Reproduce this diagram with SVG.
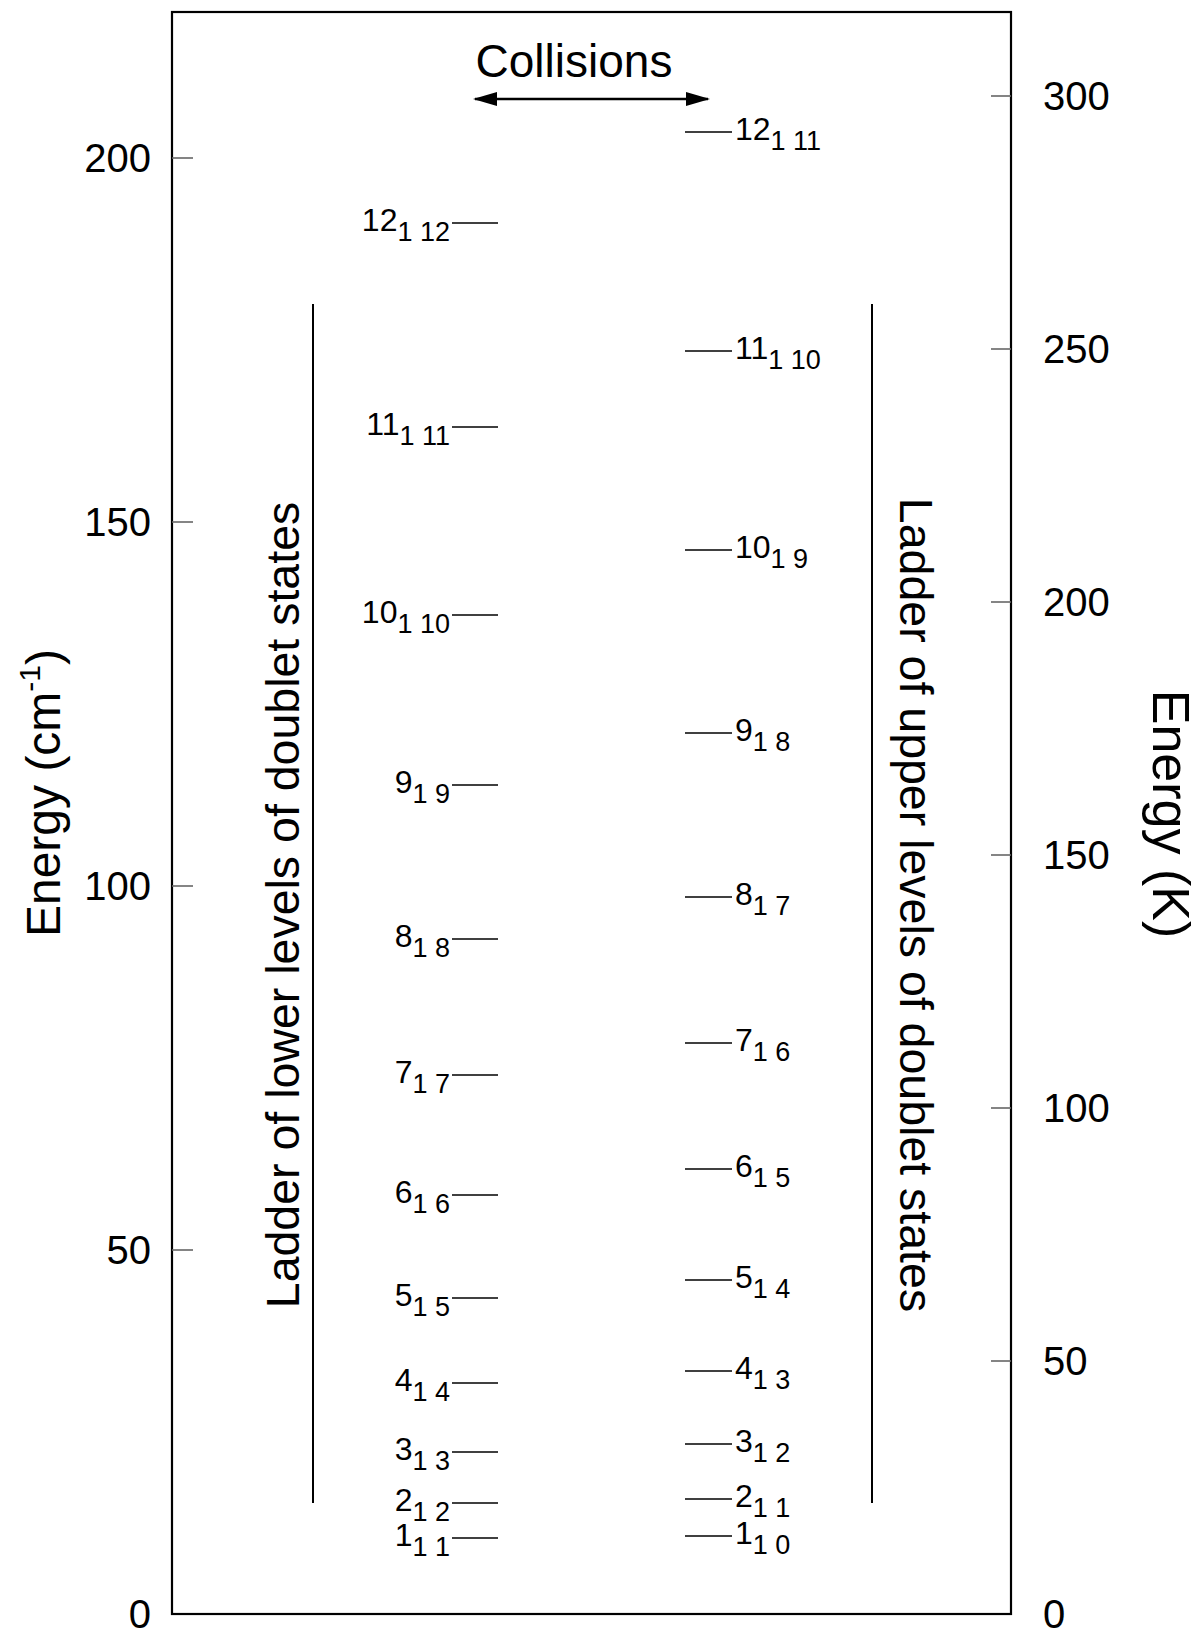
<svg xmlns="http://www.w3.org/2000/svg" width="1200" height="1645" viewBox="0 0 1200 1645">
<style>
text{font-family:"Liberation Sans",Arial,Helvetica,sans-serif;fill:#000}
.tick{stroke:#666;stroke-width:1.6}
.tl{font-size:40px}
.lvl{stroke:#000;stroke-width:1.5}
.lab{font-size:32px}
.sub{font-size:27px}
.big{font-size:46.5px}
.ladder{stroke:#000;stroke-width:2}
</style>
<defs>
<marker id="ah" viewBox="0 0 24 14" refX="22" refY="7" markerWidth="24" markerHeight="14" markerUnits="userSpaceOnUse" orient="auto-start-reverse">
<path d="M0,0 L24,7 L0,14 Z" fill="#000"/>
</marker>
</defs>
<rect width="1200" height="1645" fill="#fff"/>
<g id="frame">
<rect x="172" y="12" width="839" height="1602" fill="none" stroke="#000" stroke-width="2.2"/>
</g>
<g id="left-axis">
<line class="tick" x1="172" y1="1250" x2="193" y2="1250"/>
<line class="tick" x1="172" y1="886" x2="193" y2="886"/>
<line class="tick" x1="172" y1="522" x2="193" y2="522"/>
<line class="tick" x1="172" y1="158" x2="193" y2="158"/>
<text class="tl" x="151" y="1628" text-anchor="end">0</text>
<text class="tl" x="151" y="1264" text-anchor="end">50</text>
<text class="tl" x="151" y="900" text-anchor="end">100</text>
<text class="tl" x="151" y="536" text-anchor="end">150</text>
<text class="tl" x="151" y="172" text-anchor="end">200</text>
<text font-size="48" transform="translate(60,793) rotate(-90)" text-anchor="middle">Energy (cm<tspan font-size="30" dy="-20">-1</tspan><tspan dy="20">)</tspan></text>
</g>
<g id="right-axis">
<line class="tick" x1="991" y1="1361" x2="1011" y2="1361"/>
<line class="tick" x1="991" y1="1108" x2="1011" y2="1108"/>
<line class="tick" x1="991" y1="855" x2="1011" y2="855"/>
<line class="tick" x1="991" y1="602" x2="1011" y2="602"/>
<line class="tick" x1="991" y1="349" x2="1011" y2="349"/>
<line class="tick" x1="991" y1="96" x2="1011" y2="96"/>
<text class="tl" x="1043" y="1628">0</text>
<text class="tl" x="1043" y="1375">50</text>
<text class="tl" x="1043" y="1122">100</text>
<text class="tl" x="1043" y="869">150</text>
<text class="tl" x="1043" y="616">200</text>
<text class="tl" x="1043" y="363">250</text>
<text class="tl" x="1043" y="110">300</text>
<text font-size="52" transform="translate(1153,814) rotate(90)" text-anchor="middle">Energy (K)</text>
</g>
<g id="collisions">
<text x="574" y="77" font-size="46" text-anchor="middle">Collisions</text>
</g>
<g id="connectors">
<line x1="475" y1="99" x2="708" y2="99" stroke="#000" stroke-width="2.5" marker-start="url(#ah)" marker-end="url(#ah)"/>
</g>
<g id="lower-ladder">
<line class="ladder" x1="313" y1="304" x2="313" y2="1503"/>
<text class="big" transform="translate(299,905) rotate(-90)" text-anchor="middle">Ladder of lower levels of doublet states</text>
</g>
<g id="upper-ladder">
<line class="ladder" x1="872" y1="304" x2="872" y2="1503"/>
<text class="big" transform="translate(900,905) rotate(90)" text-anchor="middle">Ladder of upper levels of doublet states</text>
</g>
<g id="lower-levels">
<g id="L12"><line class="lvl" x1="452" y1="223" x2="498" y2="223"/><text class="lab" x="450" y="231" text-anchor="end">12<tspan class="sub" dy="10">1 12</tspan></text></g>
<g id="L11"><line class="lvl" x1="452" y1="427" x2="498" y2="427"/><text class="lab" x="450" y="435" text-anchor="end">11<tspan class="sub" dy="10">1 11</tspan></text></g>
<g id="L10"><line class="lvl" x1="452" y1="615" x2="498" y2="615"/><text class="lab" x="450" y="623" text-anchor="end">10<tspan class="sub" dy="10">1 10</tspan></text></g>
<g id="L9"><line class="lvl" x1="452" y1="785" x2="498" y2="785"/><text class="lab" x="450" y="793" text-anchor="end">9<tspan class="sub" dy="10">1 9</tspan></text></g>
<g id="L8"><line class="lvl" x1="452" y1="939" x2="498" y2="939"/><text class="lab" x="450" y="947" text-anchor="end">8<tspan class="sub" dy="10">1 8</tspan></text></g>
<g id="L7"><line class="lvl" x1="452" y1="1075" x2="498" y2="1075"/><text class="lab" x="450" y="1083" text-anchor="end">7<tspan class="sub" dy="10">1 7</tspan></text></g>
<g id="L6"><line class="lvl" x1="452" y1="1195" x2="498" y2="1195"/><text class="lab" x="450" y="1203" text-anchor="end">6<tspan class="sub" dy="10">1 6</tspan></text></g>
<g id="L5"><line class="lvl" x1="452" y1="1298" x2="498" y2="1298"/><text class="lab" x="450" y="1306" text-anchor="end">5<tspan class="sub" dy="10">1 5</tspan></text></g>
<g id="L4"><line class="lvl" x1="452" y1="1383" x2="498" y2="1383"/><text class="lab" x="450" y="1391" text-anchor="end">4<tspan class="sub" dy="10">1 4</tspan></text></g>
<g id="L3"><line class="lvl" x1="452" y1="1452" x2="498" y2="1452"/><text class="lab" x="450" y="1460" text-anchor="end">3<tspan class="sub" dy="10">1 3</tspan></text></g>
<g id="L2"><line class="lvl" x1="452" y1="1503" x2="498" y2="1503"/><text class="lab" x="450" y="1511" text-anchor="end">2<tspan class="sub" dy="10">1 2</tspan></text></g>
<g id="L1"><line class="lvl" x1="452" y1="1538" x2="498" y2="1538"/><text class="lab" x="450" y="1546" text-anchor="end">1<tspan class="sub" dy="10">1 1</tspan></text></g>
</g>
<g id="upper-levels">
<g id="U12"><line class="lvl" x1="685" y1="132" x2="732" y2="132"/><text class="lab" x="735" y="140">12<tspan class="sub" dy="10">1 11</tspan></text></g>
<g id="U11"><line class="lvl" x1="685" y1="351" x2="732" y2="351"/><text class="lab" x="735" y="359">11<tspan class="sub" dy="10">1 10</tspan></text></g>
<g id="U10"><line class="lvl" x1="685" y1="550" x2="732" y2="550"/><text class="lab" x="735" y="558">10<tspan class="sub" dy="10">1 9</tspan></text></g>
<g id="U9"><line class="lvl" x1="685" y1="733" x2="732" y2="733"/><text class="lab" x="735" y="741">9<tspan class="sub" dy="10">1 8</tspan></text></g>
<g id="U8"><line class="lvl" x1="685" y1="897" x2="732" y2="897"/><text class="lab" x="735" y="905">8<tspan class="sub" dy="10">1 7</tspan></text></g>
<g id="U7"><line class="lvl" x1="685" y1="1043" x2="732" y2="1043"/><text class="lab" x="735" y="1051">7<tspan class="sub" dy="10">1 6</tspan></text></g>
<g id="U6"><line class="lvl" x1="685" y1="1169" x2="732" y2="1169"/><text class="lab" x="735" y="1177">6<tspan class="sub" dy="10">1 5</tspan></text></g>
<g id="U5"><line class="lvl" x1="685" y1="1280" x2="732" y2="1280"/><text class="lab" x="735" y="1288">5<tspan class="sub" dy="10">1 4</tspan></text></g>
<g id="U4"><line class="lvl" x1="685" y1="1371" x2="732" y2="1371"/><text class="lab" x="735" y="1379">4<tspan class="sub" dy="10">1 3</tspan></text></g>
<g id="U3"><line class="lvl" x1="685" y1="1444" x2="732" y2="1444"/><text class="lab" x="735" y="1452">3<tspan class="sub" dy="10">1 2</tspan></text></g>
<g id="U2"><line class="lvl" x1="685" y1="1499" x2="732" y2="1499"/><text class="lab" x="735" y="1507">2<tspan class="sub" dy="10">1 1</tspan></text></g>
<g id="U1"><line class="lvl" x1="685" y1="1536" x2="732" y2="1536"/><text class="lab" x="735" y="1544">1<tspan class="sub" dy="10">1 0</tspan></text></g>
</g>
</svg>
